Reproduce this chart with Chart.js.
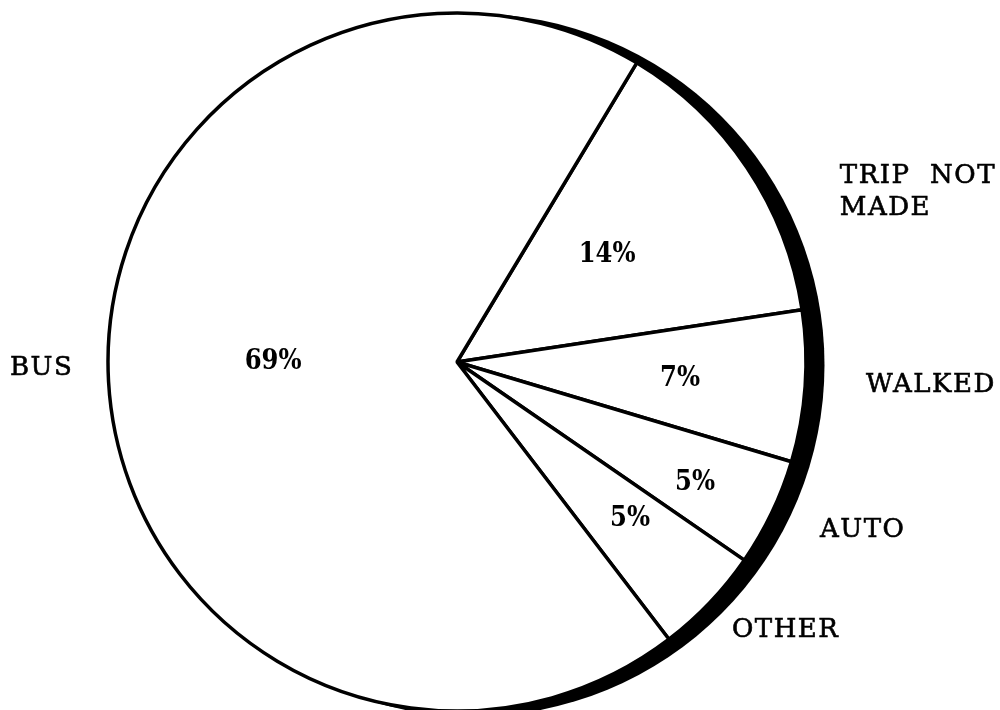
<!DOCTYPE html>
<html>
<head>
<meta charset="utf-8">
<title>Trip mode</title>
<script src="https://cdn.jsdelivr.net/npm/chart.js@4.4.1/dist/chart.umd.min.js"></script>
<style>
  html, body { margin: 0; padding: 0; background: #fff; }
  canvas { display: block; }
</style>
</head>
<body>
<canvas id="tripChart" width="1000" height="710"></canvas>
<script>
// values
let modes = ["TRIP NOT MADE", "WALKED", "AUTO", "OTHER", "BUS"];
let shares = [14, 7, 5, 5, 69];
let shareText = ["14%", "7%", "5%", "5%", "69%"];
let outsideText = [["TRIP  NOT", "MADE"], ["WALKED"], ["AUTO"], ["OTHER"], ["BUS"]];

// label spots, in units of the pie radius from the centre
let insidePos = [[0.430, -0.315], [0.639, 0.040], [0.682, 0.338], [0.496, 0.441], [-0.527, -0.009]];
let outsidePos = [[1.097, -0.539, 0.092], [1.172, 0.060, 0], [1.040, 0.473, 0], [0.788, 0.762, 0], [-1.281, 0.009, 0]];

// black crescent on the right hand rim
const rimShadow = {
  id: "rimShadow",
  beforeDatasetsDraw(chart) {
    let arc = chart.getDatasetMeta(0).data[0];
    if (!arc) return;
    let ctx = chart.ctx;
    ctx.save();
    ctx.fillStyle = "#000";
    ctx.beginPath();
    ctx.arc(arc.x + 16, arc.y + 3, arc.outerRadius + 2.5, 0, Math.PI * 2);
    ctx.fill();
    ctx.restore();
  }
};

const pieText = {
  id: "pieText",
  afterDatasetsDraw(chart) {
    let arcs = chart.getDatasetMeta(0).data;
    let ctx = chart.ctx;
    let cx = arcs[0].x;
    let cy = arcs[0].y;
    let r = arcs[0].outerRadius;
    ctx.save();
    ctx.fillStyle = "#000";
    ctx.strokeStyle = "#000";

    // percentages inside the slices
    ctx.font = "bold 27px 'DejaVu Serif'";
    ctx.fontStretch = "condensed";
    ctx.textAlign = "center";
    ctx.textBaseline = "alphabetic";
    arcs.forEach((a, i) => {
      let x = cx + insidePos[i][0] * r;
      let y = cy + insidePos[i][1] * r;
      ctx.fillText(shareText[i], x, y + 10);
    });

    // category names outside
    ctx.font = "26px 'DejaVu Serif'";
    ctx.fontStretch = "normal";
    ctx.letterSpacing = "1.5px";
    ctx.lineWidth = 0.6;
    ctx.textAlign = "left";
    outsideText.forEach((lines, i) => {
      let x = cx + outsidePos[i][0] * r;
      let y = cy + outsidePos[i][1] * r;
      lines.forEach((t, j) => {
        let yy = y + 9.5 + j * outsidePos[i][2] * r;
        ctx.fillText(t, x, yy);
        ctx.strokeText(t, x, yy);
      });
    });
    ctx.restore();
  }
};

new Chart(document.getElementById("tripChart"), {
  type: "pie",
  data: {
    labels: modes,
    datasets: [{
      data: shares,
      backgroundColor: "#fff",
      borderColor: "#000",
      borderWidth: 3.5,
      hoverOffset: 0
    }]
  },
  options: {
    responsive: false,
    animation: false,
    events: [],
    radius: 349,
    rotation: 31,
    layout: { padding: { left: 0, right: 86, top: 14, bottom: 0 } },
    plugins: {
      legend: { display: false },
      tooltip: { enabled: false }
    }
  },
  plugins: [rimShadow, pieText]
});
</script>
</body>
</html>
